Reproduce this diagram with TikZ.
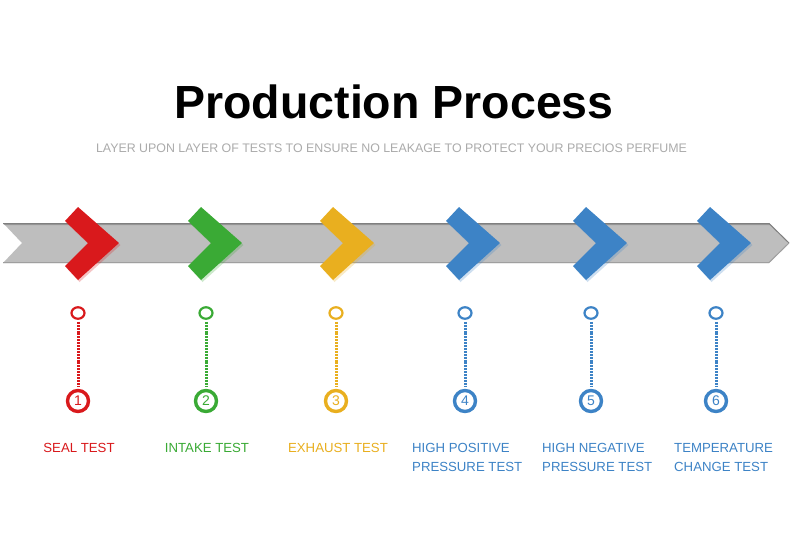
\documentclass[tikz,border=0pt]{standalone}
\usepackage{fontspec}
\setmainfont{Liberation Sans}
\usetikzlibrary{shapes.geometric}
\definecolor{cred}{HTML}{D9191C}
\definecolor{cgreen}{HTML}{3AAA35}
\definecolor{cyellow}{HTML}{E9AF1F}
\definecolor{cblue}{HTML}{3D83C6}
\definecolor{band}{HTML}{BEBEBE}
\definecolor{bandedge}{HTML}{7F7F7F}
\definecolor{subgray}{HTML}{ABABAB}
\newcommand\chevshape[1]{(#1,221) -- ({#1+13},207) -- ({#1+54},243) -- ({#1+13},280) -- (#1,266) -- ({#1+23},243) -- cycle}
\tikzset{
  ring/.style={ellipse, draw=#1, line width=2.2pt, minimum width=13pt, minimum height=11.5pt, inner sep=0pt, fill=white},
  numc/.style={circle, draw=#1, text=#1, line width=3.4pt, minimum size=21pt, inner sep=0pt, fill=white, font=\fontsize{14}{14}\selectfont},
  link/.style={draw=#1, line width=3pt, dash pattern=on 2pt off 0.9pt, shorten <=2pt, shorten >=2pt},
  lbl/.style={text=#1, font=\fontsize{13.2}{19}\selectfont, inner sep=0pt, align=left},
}
\begin{document}
\begin{tikzpicture}[x=1pt,y=-1pt]
\useasboundingbox (0,0) rectangle (790,550);
\fill[white] (0,0) rectangle (790,550);
% title
\node[font=\bfseries\fontsize{46.5}{50}\selectfont, anchor=base, inner sep=0pt] (title) at (394,118) {Production Process};
\node[font=\fontsize{12.4}{14}\selectfont, text=subgray, anchor=base, inner sep=0pt] (sub) at (391.5,152) {LAYER UPON LAYER OF TESTS TO ENSURE NO LEAKAGE TO PROTECT YOUR PRECIOS PERFUME};
% band
\fill[band] (3,223) -- (769,223) -- (789,243) -- (769,263) -- (3,263) -- (22,243) -- cycle;
\fill[bandedge!60!band] (3,223) -- (769,223) -- (771,225) -- (5,225) -- cycle;
\draw[bandedge, line width=1pt] (3,223.5) -- (769,223.5) -- (789,243);
\draw[bandedge!50!band, line width=1pt] (789,243) -- (769,262.5) -- (3,262.5);
% chevrons
\foreach \x/\c in {65/cred,188/cgreen,320/cyellow,446/cblue,573/cblue,697/cblue}{
  \fill[\c, opacity=0.25] [xshift=1.5pt, yshift=-2pt] \chevshape{\x};
  \fill[\c] \chevshape{\x};
}
% markers
\foreach \i/\x/\c in {1/78/cred,2/206/cgreen,3/336/cyellow,4/465/cblue,5/591/cblue,6/716/cblue}{
  \node[ring=\c] (o\i) at (\x,313) {};
  \node[numc=\c] (n\i) at (\x,401) {\i};
  \draw[link=\c] (o\i) -- (n\i);
}
% labels
\node[lbl=cred, anchor=base] (l1) at (79,452) {SEAL TEST};
\node[lbl=cgreen, anchor=base] (l2) at (207,452) {INTAKE TEST};
\node[lbl=cyellow, anchor=base] (l3) at (338,452) {EXHAUST TEST};
\node[lbl=cblue, anchor=base west] (l4) at (412,471) {HIGH POSITIVE\\PRESSURE TEST};
\node[lbl=cblue, anchor=base west] (l5) at (542,471) {HIGH NEGATIVE\\PRESSURE TEST};
\node[lbl=cblue, anchor=base west] (l6) at (674,471) {TEMPERATURE\\CHANGE TEST};
\end{tikzpicture}
\end{document}
